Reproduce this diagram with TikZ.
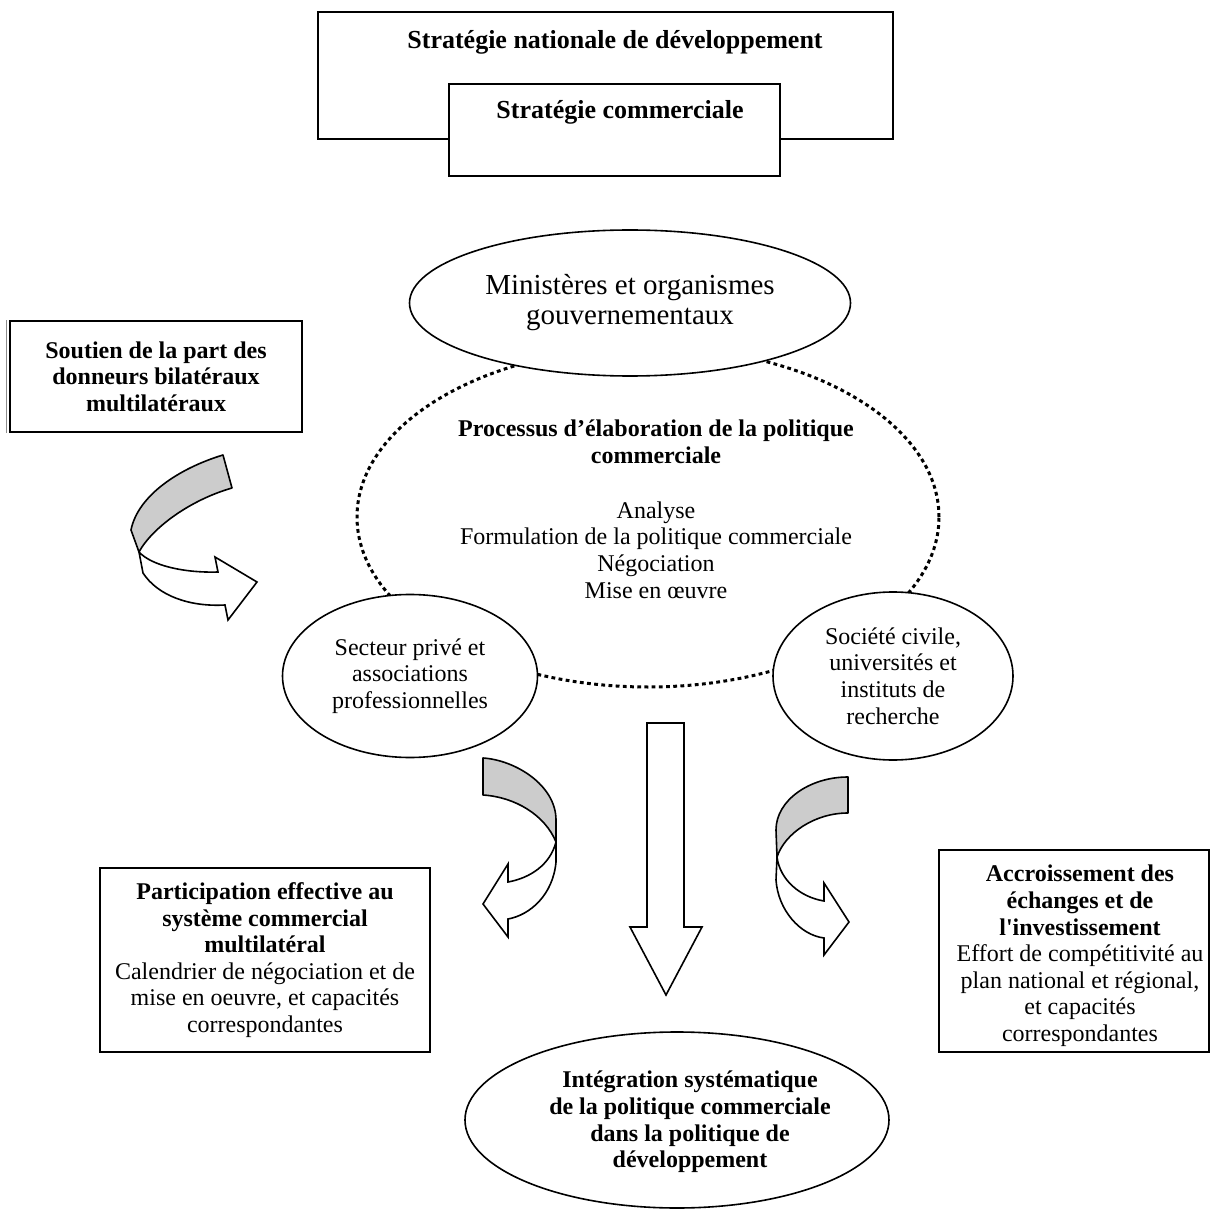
\documentclass[tikz,border=0pt]{standalone}
\usepackage{fontspec}
\setmainfont{Liberation Serif}[Ligatures=TeXOff]
\usetikzlibrary{shapes.geometric}
\begin{document}
\begin{tikzpicture}[x=0.5pt,y=-0.5pt,
  line width=0.8pt,
  bodyfont/.style={font=\fontsize{12}{13.3}\selectfont},
  boldfont/.style={font=\fontsize{12}{13.3}\selectfont\bfseries},
  titlefont/.style={font=\fontsize{13}{15}\selectfont\bfseries},
  bigfont/.style={font=\fontsize{14.5}{15}\selectfont},
  boxnode/.style={draw, rectangle, fill=white, inner sep=0pt, align=center},
  ellnode/.style={draw, ellipse, fill=white, inner sep=0pt, align=center},
  txt/.style={inner sep=0pt, align=center},
  bandgray/.style={draw, fill=black!20, line join=round},
  bandwhite/.style={draw, fill=white, line join=miter},
  dotline/.style={line width=1.5pt, dash pattern=on 1.9pt off 1.7pt}
]
\useasboundingbox (0,0) rectangle (1211,1209);

% top boxes
\node[boxnode, minimum width=287.5pt, minimum height=63.5pt] (nat) at (605.5,75.5) {};
\node[txt, titlefont] (natt) at (615,42) {Stratégie nationale de développement};
\node[boxnode, minimum width=165.5pt, minimum height=46pt] (com) at (614.5,130) {};
\node[txt, titlefont] (comt) at (620,112) {Stratégie commerciale};

% left support box
\node[boxnode, boldfont, minimum width=146pt, minimum height=55.5pt] (sout) at (156,376.5) {Soutien de la part des\\donneurs bilatéraux\\multilatéraux};
\draw[black!45, line width=0.5pt] ([xshift=-1.5pt]sout.north west) -- ([xshift=-1.5pt]sout.south west);

% dotted process ellipse
\node[draw, ellipse, dotline, inner sep=0pt, minimum width=291pt, minimum height=170pt] (proc) at (648,517) {};
\node[txt, boldfont] (proct) at (656,442) {Processus d’élaboration de la politique\\commerciale};
\node[txt, bodyfont] (procl) at (656,550) {Analyse\\Formulation de la politique commerciale\\Négociation\\Mise en œuvre};

% ellipses
\node[ellnode, bigfont, minimum width=220.5pt, minimum height=73pt] (min) at (630,303) {Ministères et organismes\\gouvernementaux};
\node[ellnode, bodyfont, minimum width=127.5pt, minimum height=81.5pt] (priv) at (410,676) {Secteur privé et\\associations\\professionnelles};
\node[ellnode, bodyfont, minimum width=120pt, minimum height=84pt] (civ) at (893,676) {Société civile,\\universités et\\instituts de\\recherche};
\node[ellnode, minimum width=212pt, minimum height=88pt] (integ) at (677,1120) {};
\node[txt, boldfont] (integt) at (690,1122) {Intégration systématique\\de la politique commerciale\\dans la politique de\\développement};

% bottom boxes
\node[boxnode, bodyfont, minimum width=165pt, minimum height=92pt] (part) at (265,960) {\bfseries Participation effective au\\\bfseries système commercial\\\bfseries multilatéral\\\mdseries Calendrier de négociation et de\\\mdseries mise en oeuvre, et capacités\\\mdseries correspondantes};
\node[boxnode, minimum width=135pt, minimum height=101pt] (accr) at (1074,951) {};
\node[txt, bodyfont] (accrt) at (1080,956) {\bfseries Accroissement des\\\bfseries échanges et de\\\bfseries l'investissement\\\mdseries Effort de compétitivité au\\\mdseries plan national et régional,\\\mdseries et capacités\\\mdseries correspondantes};

% top-left curved arrow
\draw[bandgray] (223,455) .. controls (180,468) and (138,495) .. (131,530)
  -- (139,552) .. controls (152,528) and (190,500) .. (232,488) -- cycle;
\draw[bandwhite] (139,552) -- (143,573) .. controls (158,596) and (190,607) .. (225,605)
  -- (228,620) -- (257,582) -- (215,557) -- (218,572)
  .. controls (185,573) and (152,566) .. (139,552) -- cycle;

% bottom-left curved arrow
\draw[bandgray] (483,758) .. controls (515,760) and (556,785) .. (556,820)
  -- (556,842) .. controls (545,815) and (515,797) .. (483,795) -- cycle;
\draw[bandwhite] (556,842) -- (556,862) .. controls (553,895) and (530,915) .. (508,919)
  -- (508,937) -- (483,904) -- (508,864) -- (508,882)
  .. controls (530,878) and (550,865) .. (556,842) -- cycle;

% bottom-right curved arrow
\draw[bandgray] (848,777) .. controls (810,777) and (776,800) .. (776,830)
  -- (777,857) .. controls (785,833) and (815,813) .. (848,813) -- cycle;
\draw[bandwhite] (777,857) -- (776,880) .. controls (778,910) and (800,935) .. (824,938)
  -- (824,955) -- (849,922) -- (824,883) -- (824,901)
  .. controls (800,897) and (780,880) .. (777,857) -- cycle;

% big down arrow
\draw[bandwhite] (647,723) -- (684,723) -- (684,927) -- (702,927) -- (666,995)
  -- (630,927) -- (647,927) -- cycle;
\end{tikzpicture}
\end{document}
